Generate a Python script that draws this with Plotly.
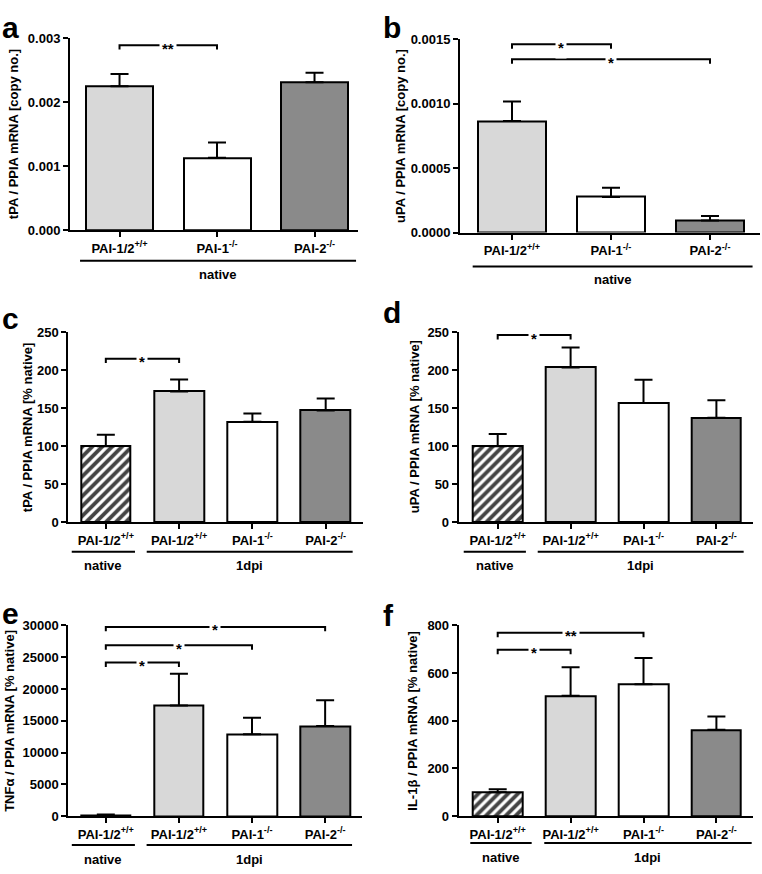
import plotly.graph_objects as go

W, H = 762, 874

# ---------------- data ----------------
cats3 = ["PAI-1/2<sup>+/+</sup>", "PAI-1<sup>-/-</sup>", "PAI-2<sup>-/-</sup>"]
cats4 = ["PAI-1/2<sup>+/+</sup>", "PAI-1/2<sup>+/+</sup>", "PAI-1<sup>-/-</sup>", "PAI-2<sup>-/-</sup>"]

a_mean = [0.00225, 0.00113, 0.00231]
a_err = [0.00019, 0.00024, 0.00015]
b_mean = [0.000867, 0.000277, 0.000094]
b_err = [0.000151, 0.000071, 0.000035]
c_mean = [100, 172, 132, 147]
c_err = [15, 15.5, 11, 15.5]
d_mean = [100, 203.5, 156.7, 137.3]
d_err = [16, 26, 30.5, 23]
e_mean = [100, 17400, 12900, 14170]
e_err = [150, 5000, 2580, 4080]
f_mean = [100, 504, 553, 362]
f_err = [13, 120, 110, 56]

a_sig = [(0, 1, 0.00289, "**")]
b_sig = [(0, 1, 0.001462, "*"), (0, 2, 0.001346, "*")]
c_sig = [(0, 1, 215, "*")]
d_sig = [(0, 1, 246, "*")]
e_sig = [(0, 3, 29780, "*"), (0, 2, 26900, "*"), (0, 1, 24170, "*")]
f_sig = [(0, 2, 768, "**"), (0, 1, 697, "*")]

groups3 = ["native"]
groups4 = ["native", "1dpi"]

titles = {
    "a": "tPA / PPIA mRNA [copy no.]",
    "b": "uPA / PPIA mRNA [copy no.]",
    "c": "tPA / PPIA mRNA [% native]",
    "d": "uPA / PPIA mRNA [% native]",
    "e": "TNF\u03b1 / PPIA mRNA [% native]",
    "f": "IL-1\u03b2 / PPIA mRNA [% native]",
}

LG = "#d8d8d8"
DG = "#8a8a8a"

# ---------------- layout helpers ----------------
def px(x):
    return x / W

def py(y):
    return 1 - y / H

panels = [
    dict(key="a", mean=a_mean, err=a_err, cats=cats3, colors=[LG, "white", DG], hatch=False, sig=a_sig,
         yr=[0, 0.003], dtick=0.001, fmt=".3f", xd=(70, 358), yd=(31.7, 227), xr=[-0.508, 2.446], bw=0.687,
         groups=groups3, gspans=[(-0.405, 2.426)], gly=258.3, gty=272, tx=13, lpos=(0, 2)),
    dict(key="b", mean=b_mean, err=b_err, cats=cats3, colors=[LG, "white", DG], hatch=False, sig=b_sig,
         yr=[0, 0.0015], dtick=0.0005, fmt=".4f", xd=(460, 760), yd=(33, 229.5), xr=[-0.525, 2.505], bw=0.68,
         groups=groups3, gspans=[(-0.397, 2.43)], gly=264, gty=277, tx=401, lpos=(381, 2)),
    dict(key="c", mean=c_mean, err=c_err, cats=cats4, colors=["white", LG, "white", DG], hatch=True, sig=c_sig,
         yr=[0, 250], dtick=50, fmt="d", xd=(68.3, 362.7), yd=(330.7, 524.3), xr=[-0.512, 3.505], bw=0.68,
         groups=groups4, gspans=[(-0.465, 0.398), (0.558, 3.368)], gly=554.3, gty=568, tx=27, lpos=(0, 298)),
    dict(key="d", mean=d_mean, err=d_err, cats=cats4, colors=["white", LG, "white", DG], hatch=True, sig=d_sig,
         yr=[0, 250], dtick=50, fmt="d", xd=(458.7, 752.7), yd=(330.7, 524.3), xr=[-0.535, 3.498], bw=0.68,
         groups=groups4, gspans=[(-0.466, 0.387), (0.549, 3.374)], gly=554.3, gty=568, tx=414, lpos=(381, 292)),
    dict(key="e", mean=e_mean, err=e_err, cats=cats4, colors=["white", LG, "white", DG], hatch=True, sig=e_sig,
         yr=[0, 30000], dtick=5000, fmt="d", xd=(68.3, 361.7), yd=(629.3, 823.3), xr=[-0.513, 3.5], bw=0.68,
         groups=groups4, gspans=[(-0.465, 0.398), (0.558, 3.368)], gly=852.7, gty=867, tx=10, lpos=(0, 598)),
    dict(key="f", mean=f_mean, err=f_err, cats=cats4, colors=["white", LG, "white", DG], hatch=True, sig=f_sig,
         yr=[0, 800], dtick=200, fmt="d", xd=(458.7, 752.7), yd=(629, 823.3), xr=[-0.535, 3.498], bw=0.68,
         groups=groups4, gspans=[(-0.376, 0.466), (0.639, 3.484)], gly=850.7, gty=865, tx=413, lpos=(381, 600)),
]

FONT = "Liberation Sans, Arial, sans-serif"
FS = 13

fig = go.Figure()
shapes = []
annotations = []
layout_axes = {}

for i, p in enumerate(panels):
    n = i + 1
    xa = "x" if n == 1 else f"x{n}"
    ya = "y" if n == 1 else f"y{n}"
    xkey = "xaxis" if n == 1 else f"xaxis{n}"
    ykey = "yaxis" if n == 1 else f"yaxis{n}"
    nb = len(p["mean"])
    xs = list(range(nb))
    shapes_pat = ["/" if (p["hatch"] and j == 0) else "" for j in range(nb)]
    fig.add_trace(go.Bar(
        x=xs, y=p["mean"], xaxis=xa, yaxis=ya, width=p["bw"],
        marker=dict(color=p["colors"], line=dict(color="black", width=2),
                    pattern=dict(shape=shapes_pat, fgcolor="black", fgopacity=1, size=7, solidity=0.55)),
        error_y=dict(type="data", symmetric=False, array=p["err"], arrayminus=[0] * nb,
                     color="black", thickness=2, width=9),
        showlegend=False, hoverinfo="skip",
    ))
    layout_axes[xkey] = dict(
        domain=[px(p["xd"][0]), px(p["xd"][1])], anchor=ya, range=p["xr"],
        tickmode="array", tickvals=xs, ticktext=p["cats"],
        showline=True, linecolor="black", linewidth=2, ticks="outside", ticklen=5, tickwidth=2,
        tickcolor="black", showgrid=False, zeroline=False, fixedrange=True,
        tickfont=dict(size=FS, family=FONT, color="black", weight="bold"),
    )
    layout_axes[ykey] = dict(
        domain=[py(p["yd"][1]), py(p["yd"][0])], anchor=xa, range=p["yr"], dtick=p["dtick"],
        tick0=0, tickformat=p["fmt"], showline=True, linecolor="black", linewidth=2,
        ticks="outside", ticklen=5, tickwidth=2, tickcolor="black", showgrid=False, zeroline=False,
        fixedrange=True, tickfont=dict(size=FS, family=FONT, color="black", weight="bold"),
    )
    # significance brackets
    plot_h = p["yd"][1] - p["yd"][0]
    tick = 4.5 / plot_h * (p["yr"][1] - p["yr"][0])
    for (x0, x1, yv, lab) in p["sig"]:
        shapes.append(dict(type="path", xref=xa, yref=ya,
                           path=f"M {x0},{yv - tick} L {x0},{yv} L {x1},{yv} L {x1},{yv - tick}",
                           line=dict(color="black", width=2)))
        annotations.append(dict(x=(x0 + x1) / 2, y=yv, xref=xa, yref=ya, text=lab, showarrow=False,
                                xanchor="center", yanchor="middle", yshift=-3, bgcolor="white", borderpad=2,
                                font=dict(size=15, family=FONT, color="black", weight="bold")))
    # group lines and labels
    for (g0, g1), gl in zip(p["gspans"], p["groups"]):
        shapes.append(dict(type="line", xref=xa, yref="paper", x0=g0, x1=g1, y0=py(p["gly"]), y1=py(p["gly"]),
                           line=dict(color="black", width=2)))
        annotations.append(dict(x=(g0 + g1) / 2, y=py(p["gty"]), xref=xa, yref="paper", text=gl,
                                showarrow=False, xanchor="center", yanchor="middle",
                                font=dict(size=FS, family=FONT, color="black", weight="bold")))
    # y title, centred on the axis
    yc = (p["yd"][0] + p["yd"][1]) / 2
    annotations.append(dict(x=px(p["tx"]), y=py(yc), xref="paper", yref="paper",
                            text=titles[p["key"]], textangle=-90, showarrow=False,
                            xanchor="center", yanchor="middle",
                            font=dict(size=FS, family=FONT, color="black", weight="bold")))
    # panel letter
    annotations.append(dict(x=px(p["lpos"][0]), y=py(p["lpos"][1]), xref="paper", yref="paper",
                            text=p["key"], showarrow=False, xanchor="left", yanchor="top",
                            font=dict(size=30, family=FONT, color="black", weight="bold")))

fig.update_layout(
    width=W, height=H, margin=dict(l=0, r=0, t=0, b=0),
    paper_bgcolor="white", plot_bgcolor="white",
    font=dict(family=FONT, size=FS, color="black", weight="bold"),
    shapes=shapes, annotations=annotations, bargap=0,
    **layout_axes,
)

fig.write_html("out.html", config={"displayModeBar": False},
               post_script="document.body.style.margin='0';document.body.style.overflow='hidden';")
